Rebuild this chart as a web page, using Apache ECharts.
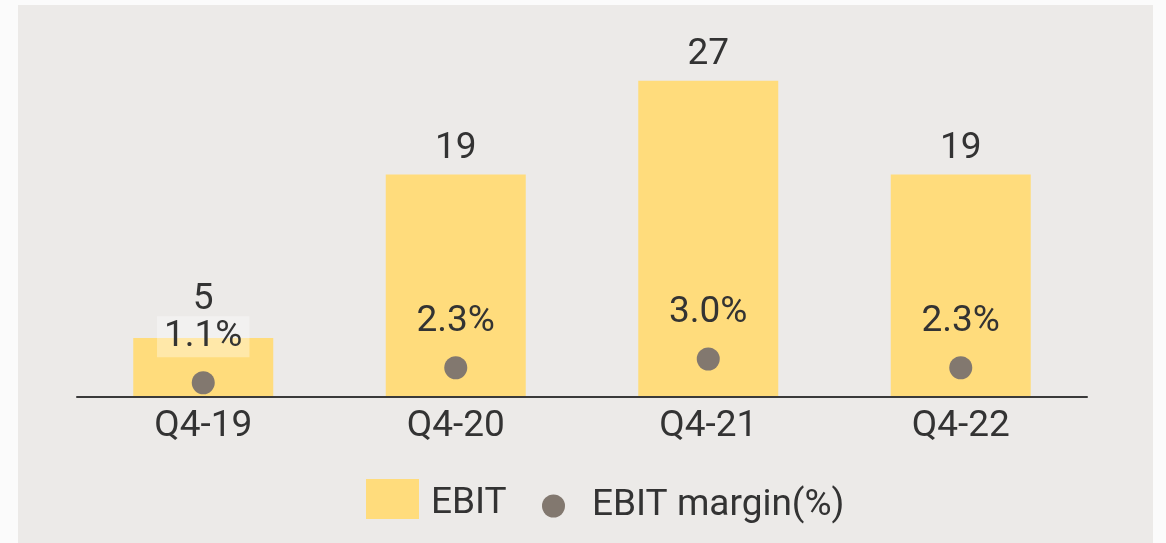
<!DOCTYPE html>
<html>
<head>
<meta charset="utf-8">
<script src="https://cdn.jsdelivr.net/npm/echarts@6/dist/echarts.min.js"></script>
<style>
  html, body { margin: 0; padding: 0; background: #fbfbfb; }
  #chart {
    position: absolute;
    left: 18px;
    top: 5px;
    width: 1135px;
    height: 538px;
    background: #eceae8;
  }
</style>
</head>
<body>
<div id="chart"></div>
<script>
// 数据
var categories = ['Q4-19', 'Q4-20', 'Q4-21', 'Q4-22'];
var ebit = [5, 19, 27, 19];
var ebitMargin = [1.1, 2.3, 3.0, 2.3];

var textColor = '#333333';
var fontFamily = 'Roboto, "Noto Sans", sans-serif';

var myChart = echarts.init(document.getElementById('chart'));

myChart.setOption({
  animation: false,
  textStyle: { fontFamily: fontFamily },
  legend: [
    {
      data: ['EBIT'],
      left: 348,
      top: 474,
      padding: 0,
      itemWidth: 53,
      itemHeight: 40,
      icon: 'rect',
      formatter: '{a|{name}}',
      textStyle: {
        rich: {
          a: {
            color: textColor,
            fontSize: 37,
            fontFamily: fontFamily,
            padding: [9, 0, 0, 7]
          }
        }
      }
    },
    {
      data: ['EBIT margin(%)'],
      left: 524,
      top: 482.5,
      padding: 0,
      itemWidth: 23,
      itemHeight: 23,
      icon: 'circle',
      itemStyle: { opacity: 1 },
      textStyle: {
        color: textColor,
        fontSize: 37,
        fontFamily: fontFamily,
        padding: [2, 0, 0, 22]
      }
    }
  ],
  grid: {
    left: 59,
    right: 66,
    top: 40.8,
    bottom: 146.5
  },
  xAxis: {
    type: 'category',
    data: categories,
    z: 5,
    axisLine: {
      lineStyle: { color: '#3a3a3a', width: 2 }
    },
    axisTick: { show: false },
    axisLabel: {
      color: textColor,
      fontSize: 37,
      lineHeight: 37,
      margin: 12,
      fontFamily: fontFamily
    }
  },
  yAxis: [
    { type: 'value', min: 0, max: 30, show: false },
    { type: 'value', min: 0, max: 28.06, show: false }
  ],
  series: [
    {
      name: 'EBIT',
      type: 'bar',
      barWidth: 140,
      itemStyle: { color: '#ffdc7c' },
      label: {
        show: true,
        position: 'top',
        distance: 8,
        color: textColor,
        fontSize: 37,
        lineHeight: 36,
        fontFamily: fontFamily
      },
      data: ebit.map(function (v, i) {
        // 第一个柱子的标签往上挪，避免与百分比标签重叠
        return i === 0 ? { value: v, label: { distance: 20 } } : v;
      })
    },
    {
      name: 'EBIT margin(%)',
      type: 'scatter',
      yAxisIndex: 1,
      symbol: 'circle',
      symbolSize: 23,
      itemStyle: { color: '#82786f', opacity: 1 },
      label: {
        show: true,
        position: 'top',
        distance: 14,
        color: textColor,
        fontSize: 37,
        lineHeight: 35,
        padding: [3, 7],
        fontFamily: fontFamily,
        formatter: function (params) {
          return params.value[1].toFixed(1) + '%';
        }
      },
      data: ebitMargin.map(function (v, i) {
        var item = { value: [categories[i], v] };
        if (i === 0) {
          item.label = { backgroundColor: 'rgba(255,255,255,0.35)' };
        }
        return item;
      })
    }
  ]
});
</script>
</body>
</html>
